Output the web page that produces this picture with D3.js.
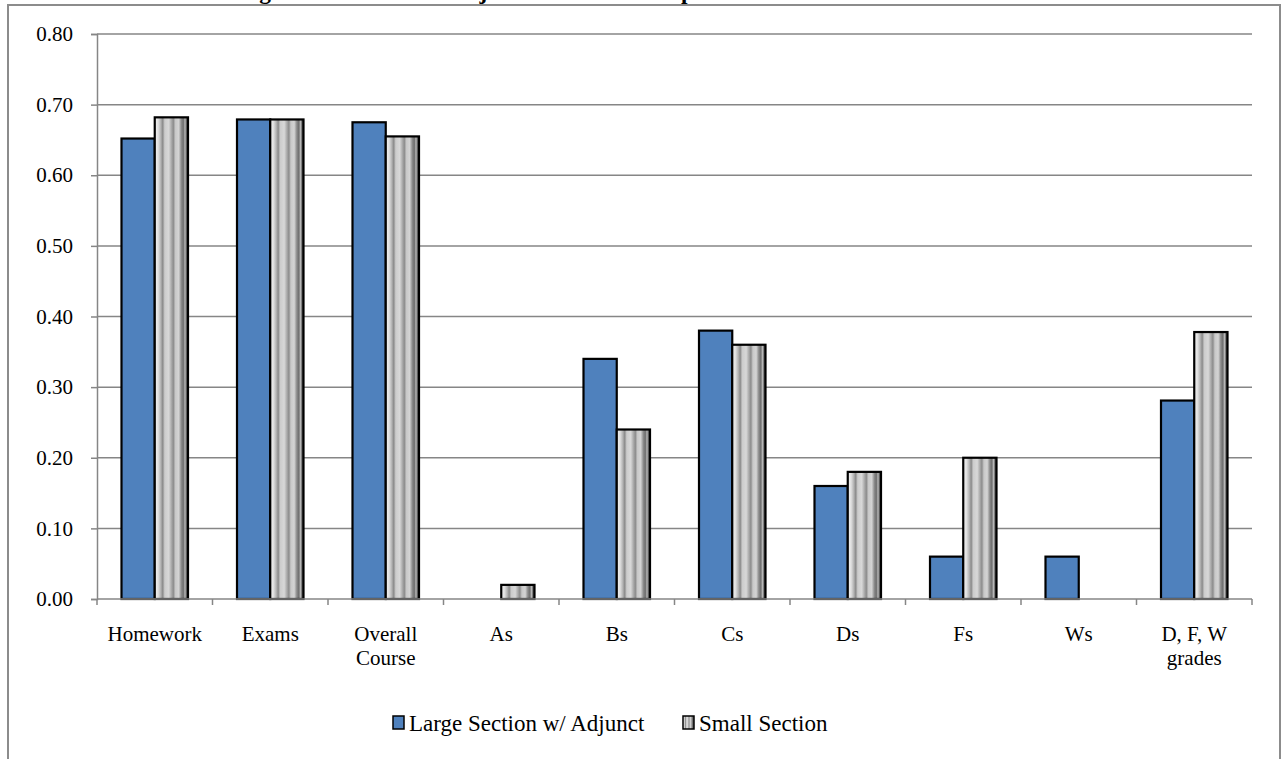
<!DOCTYPE html>
<html>
<head>
<meta charset="utf-8">
<script src="https://cdn.jsdelivr.net/npm/d3@7/dist/d3.min.js"></script>
<style>
  html, body { margin: 0; padding: 0; background: #fff; }
  svg { display: block; }
  text { font-family: "Liberation Serif", "Times New Roman", serif; fill: #000; }
</style>
</head>
<body>
<svg id="chart" width="1281" height="759"></svg>
<script>
// Categories and series values
const categories = ["Homework", "Exams", "Overall Course", "As", "Bs", "Cs", "Ds", "Fs", "Ws", "D, F, W grades"];
const categoryLines = [["Homework"], ["Exams"], ["Overall", "Course"], ["As"], ["Bs"], ["Cs"], ["Ds"], ["Fs"], ["Ws"], ["D, F, W", "grades"]];
const seriesNames = ["Large Section w/ Adjunct", "Small Section"];
const largeAdjunct = [0.652, 0.679, 0.675, 0.00, 0.34, 0.38, 0.16, 0.06, 0.06, 0.281];
const smallSection = [0.682, 0.679, 0.655, 0.02, 0.24, 0.36, 0.18, 0.20, 0.00, 0.378];
const yTicks = [0, 0.1, 0.2, 0.3, 0.4, 0.5, 0.6, 0.7, 0.8];
const titleText = "Average Course Grades: Adjunct vs. Small Comparison";

const serif = "'Liberation Serif', 'Times New Roman', serif";
const svg = d3.select("#chart");
const gridColor = "#868686";

// Striped fill for the small-section bars
const defs = svg.append("defs");
const grad = defs.append("linearGradient").attr("id", "stripes")
  .attr("x1", "0%").attr("x2", "100%").attr("y1", "0%").attr("y2", "0%");
[[0, "#f4f4f4"], [0.10, "#e0e0e0"], [0.18, "#b4b4b4"], [0.24, "#8a8a8a"], [0.30, "#cccccc"],
 [0.42, "#d8d8d8"], [0.50, "#ababab"], [0.56, "#8c8c8c"], [0.62, "#c8c8c8"], [0.72, "#d4d4d4"],
 [0.80, "#8a8a8a"], [0.86, "#6e6e6e"], [0.91, "#b8b8b8"], [0.96, "#5a5a5a"], [1, "#404040"]]
  .forEach(([o, c]) => grad.append("stop").attr("offset", o).attr("stop-color", c));

// Chart frame
svg.append("rect").attr("x", 8).attr("y", 5).attr("width", 1272).attr("height", 800)
  .attr("fill", "none").attr("stroke", "#8c8c8c").attr("stroke-width", 2);

// Title (sits mostly above the visible frame)
svg.append("text").attr("x", 200).attr("y", -1)
  .style("font-family", serif)
  .attr("font-size", 23.4).attr("font-weight", "bold").text(titleText);

// Scales
const x0 = d3.scaleBand().domain(categories).range([97, 1252]).paddingInner(0).paddingOuter(0);
const x1 = d3.scaleBand().domain(seriesNames).range([24.5, x0.bandwidth() - 24.5]).padding(0);
const y = d3.scaleLinear().domain([0, 0.8]).range([599, 34]);

// Horizontal gridlines
svg.append("g").selectAll("line").data(yTicks.slice(1)).join("line")
  .attr("x1", 97).attr("x2", 1252)
  .attr("y1", d => y(d)).attr("y2", d => y(d))
  .attr("stroke", gridColor).attr("stroke-width", 1.5);

// Y axis
const yAxis = svg.append("g").attr("transform", "translate(97,0)")
  .call(d3.axisLeft(y).tickValues(yTicks).tickFormat(d3.format(".2f")).tickSize(6).tickPadding(18));
yAxis.attr("font-family", null).attr("font-size", null);
yAxis.select(".domain").attr("stroke", gridColor).attr("stroke-width", 1.5);
yAxis.selectAll(".tick line").attr("stroke", gridColor).attr("stroke-width", 1.5);
yAxis.selectAll(".tick text").attr("font-size", 21).style("font-family", serif).attr("fill", "#000");

// Bars
const series = [
  { name: seriesNames[0], values: largeAdjunct, fill: "#4F81BD" },
  { name: seriesNames[1], values: smallSection, fill: "url(#stripes)" }
];
series.forEach(s => {
  svg.append("g").selectAll("rect")
    .data(categories.map((c, i) => ({ c, v: s.values[i] })).filter(d => d.v > 0))
    .join("rect")
    .attr("x", d => x0(d.c) + x1(s.name))
    .attr("width", x1.bandwidth())
    .attr("y", d => y(d.v))
    .attr("height", d => y(0) - y(d.v))
    .attr("fill", s.fill)
    .attr("stroke", "#000").attr("stroke-width", 2.2);
});

// X axis line and category boundary ticks
svg.append("line").attr("x1", 97).attr("x2", 1252).attr("y1", y(0)).attr("y2", y(0))
  .attr("stroke", gridColor).attr("stroke-width", 1.5);
const boundaries = categories.map(c => x0(c)).concat([x0.range()[1]]);
svg.append("g").selectAll("line").data(boundaries).join("line")
  .attr("x1", d => d).attr("x2", d => d).attr("y1", y(0)).attr("y2", y(0) + 6)
  .attr("stroke", gridColor).attr("stroke-width", 1.5);

// Category labels
const labels = svg.append("g").attr("font-size", 21).attr("text-anchor", "middle");
categories.forEach((c, i) => {
  const cx = x0(c) + x0.bandwidth() / 2;
  const t = labels.append("text").attr("x", cx).attr("y", 641).style("font-family", serif);
  categoryLines[i].forEach((line, j) => {
    t.append("tspan").attr("x", cx).attr("dy", j === 0 ? 0 : 24).text(line);
  });
});

// Legend
const legend = svg.append("g").attr("font-size", 23);
const legendX = [393, 683];
series.forEach((s, i) => {
  legend.append("rect").attr("x", legendX[i]).attr("y", 716).attr("width", 11).attr("height", 13)
    .attr("fill", s.fill).attr("stroke", "#000").attr("stroke-width", 1.5);
  legend.append("text").attr("x", legendX[i] + 16).attr("y", 731)
    .style("font-family", serif).text(s.name);
});
</script>
</body>
</html>
